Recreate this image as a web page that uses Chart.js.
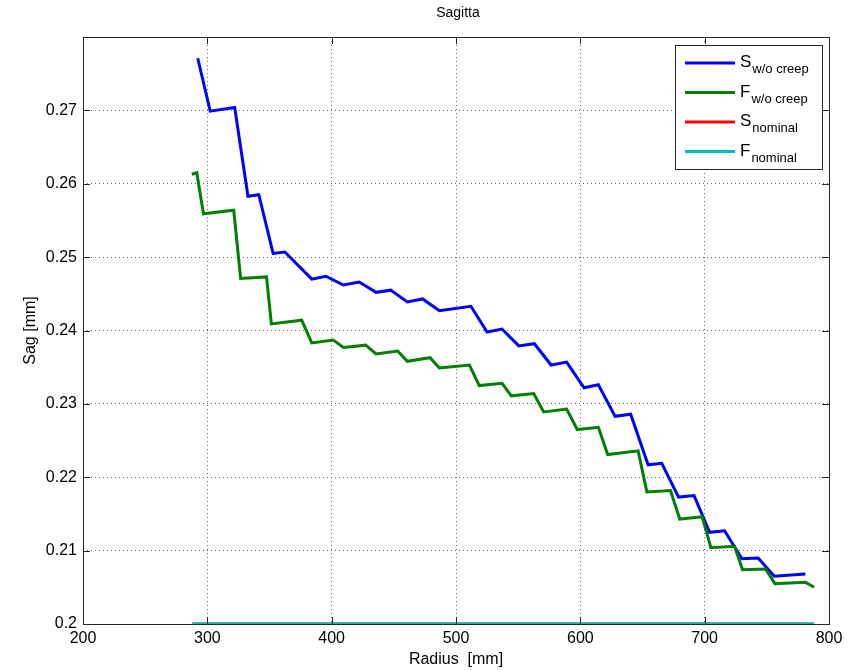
<!DOCTYPE html>
<html>
<head>
<meta charset="utf-8">
<script src="https://cdn.jsdelivr.net/npm/chart.js@4.4.1/dist/chart.umd.min.js"></script>
<style>
  body { margin: 0; background: #fff; }
  canvas { display: block; }
</style>
</head>
<body>
<canvas id="sagChart" width="849" height="670"></canvas>
<script>
// radius [mm] / sag [mm]
var sWoCreepX = [292.3, 302.3, 322, 332.7, 341.4, 352.9, 362.4, 384, 395.4, 409.4, 422.2, 435.7, 447.5, 460.8, 473.2, 486.6, 512, 525, 537, 550.5, 563, 576.5, 589, 603, 614.5, 628, 640.5, 654.5, 665.5, 679, 691.5, 704, 716, 730, 743, 756, 781];
var sWoCreepY = [0.2771, 0.2699, 0.2704, 0.2583, 0.2585, 0.2505, 0.2507, 0.2470, 0.2474, 0.2462, 0.2466, 0.2452, 0.2455, 0.2439, 0.2443, 0.2427, 0.2433, 0.2398, 0.2402, 0.2379, 0.2382, 0.2353, 0.2357, 0.2322, 0.2326, 0.2283, 0.2286, 0.2217, 0.2219, 0.2173, 0.2175, 0.2125, 0.2127, 0.2089, 0.2090, 0.2065, 0.2068];

var fWoCreepX = [287.5, 291.5, 296.9, 321.2, 326.8, 347.6, 351.5, 375.9, 384, 401.3, 409.4, 427.4, 435.7, 453.1, 460.8, 479.1, 486.6, 510.8, 518.7, 537, 544.5, 562.5, 570.5, 589, 597.5, 614.5, 622, 646.5, 653.5, 672.5, 680, 698, 705, 724, 730.5, 749, 756.5, 781, 788];
var fWoCreepY = [0.2613, 0.2615, 0.2559, 0.2564, 0.2471, 0.2473, 0.2409, 0.2414, 0.2383, 0.2387, 0.2377, 0.2380, 0.2368, 0.2372, 0.2358, 0.2363, 0.2349, 0.2353, 0.2325, 0.2328, 0.2311, 0.2314, 0.2289, 0.2293, 0.2265, 0.2268, 0.2231, 0.2236, 0.2180, 0.2182, 0.2143, 0.2146, 0.2104, 0.2106, 0.2074, 0.2075, 0.2055, 0.2057, 0.2050];

var nominalX = [288, 788];
var sNominalY = [0.2, 0.2];
var fNominalY = [0.2, 0.2];

var xTicks = [200, 300, 400, 500, 600, 700, 800];
var yTicks = [0.2, 0.21, 0.22, 0.23, 0.24, 0.25, 0.26, 0.27, 0.28];

var seriesNames = [['S', 'w/o creep'], ['F', 'w/o creep'], ['S', 'nominal'], ['F', 'nominal']];
var seriesColors = ['#0000ff', '#008000', '#ff0000', '#00bfbf'];

function pts(xs, ys) {
  return xs.map(function (x, i) { return { x: x, y: ys[i] }; });
}

var FONT = "'Liberation Sans', Arial, sans-serif";

// title, axis labels, frame, inward ticks and the legend box (subscripts)
var matlabLook = {
  id: 'matlabLook',
  afterDraw: function (chart) {
    var ctx = chart.ctx;
    var a = chart.chartArea;
    var xs = chart.scales.x, ys = chart.scales.y;
    ctx.save();
    ctx.strokeStyle = '#262626';
    ctx.lineWidth = 1;
    ctx.strokeRect(a.left + 0.5, a.top + 0.5, a.right - a.left, a.bottom - a.top);
    ctx.beginPath();
    xTicks.forEach(function (v) {
      var px = Math.round(xs.getPixelForValue(v)) + 0.5;
      ctx.moveTo(px, a.bottom); ctx.lineTo(px, a.bottom - 7);
      ctx.moveTo(px, a.top); ctx.lineTo(px, a.top + 7);
    });
    yTicks.forEach(function (v) {
      var py = Math.round(ys.getPixelForValue(v)) + 0.5;
      ctx.moveTo(a.left, py); ctx.lineTo(a.left + 7, py);
      ctx.moveTo(a.right, py); ctx.lineTo(a.right - 7, py);
    });
    ctx.stroke();

    ctx.fillStyle = '#000';
    ctx.textAlign = 'center';
    ctx.textBaseline = 'middle';
    ctx.font = '14px ' + FONT;
    ctx.fillText('Sagitta', (a.left + a.right) / 2 + 2, 13);
    ctx.font = '16px ' + FONT;
    ctx.fillText('Radius  [mm]', (a.left + a.right) / 2, 660);
    ctx.save();
    ctx.translate(31, (a.top + a.bottom) / 2);
    ctx.rotate(-Math.PI / 2);
    ctx.fillText('Sag [mm]', 0, 0);
    ctx.restore();

    // legend
    var lx = 675, ly = 45, lw = 147, lh = 124;
    ctx.fillStyle = '#fff';
    ctx.fillRect(lx, ly, lw, lh);
    ctx.strokeStyle = '#262626';
    ctx.strokeRect(lx + 0.5, ly + 0.5, lw, lh);
    ctx.textAlign = 'left';
    ctx.textBaseline = 'alphabetic';
    seriesNames.forEach(function (n, i) {
      var y = 63 + i * 29.5;
      ctx.strokeStyle = seriesColors[i];
      ctx.lineWidth = 3;
      ctx.beginPath();
      ctx.moveTo(685, y); ctx.lineTo(735, y);
      ctx.stroke();
      ctx.fillStyle = '#000';
      ctx.font = '17px ' + FONT;
      ctx.fillText(n[0], 740, y + 4);
      var w = ctx.measureText(n[0]).width;
      ctx.font = '13px ' + FONT;
      ctx.fillText(n[1], 740 + w + 1, y + 10);
    });
    ctx.restore();
  }
};

new Chart(document.getElementById('sagChart'), {
  type: 'scatter',
  data: {
    datasets: [
      { label: 'S w/o creep', data: pts(sWoCreepX, sWoCreepY), borderColor: seriesColors[0], order: 4 },
      { label: 'F w/o creep', data: pts(fWoCreepX, fWoCreepY), borderColor: seriesColors[1], order: 3 },
      { label: 'S nominal', data: pts(nominalX, sNominalY), borderColor: seriesColors[2], order: 2 },
      { label: 'F nominal', data: pts(nominalX, fNominalY), borderColor: seriesColors[3], order: 1 }
    ].map(function (d) {
      d.showLine = true;
      d.borderWidth = 3;
      d.pointRadius = 0;
      d.fill = false;
      d.tension = 0;
      return d;
    })
  },
  options: {
    responsive: false,
    animation: false,
    devicePixelRatio: 1,
    layout: { padding: { top: 37, right: 20, left: 0, bottom: 0 } },
    plugins: { legend: { display: false }, title: { display: false }, tooltip: { enabled: false } },
    scales: {
      x: {
        type: 'linear', min: 200, max: 800,
        afterBuildTicks: function (s) { s.ticks = xTicks.map(function (v) { return { value: v }; }); },
        afterFit: function (s) { s.height = 46; },
        grid: { color: '#666', drawTicks: false },
        border: { display: false, dash: [1, 3] },
        ticks: { color: '#000', font: { family: FONT, size: 16 }, padding: 5, maxRotation: 0 }
      },
      y: {
        type: 'linear', min: 0.2, max: 0.28,
        afterBuildTicks: function (s) { s.ticks = yTicks.map(function (v) { return { value: v }; }); },
        afterFit: function (s) { s.width = 83; },
        grid: { color: '#666', drawTicks: false },
        border: { display: false, dash: [1, 3] },
        ticks: {
          color: '#000', font: { family: FONT, size: 16 }, padding: 6,
          callback: function (v) { return v >= 0.275 ? '' : String(Math.round(v * 100) / 100); }
        }
      }
    }
  },
  plugins: [matlabLook]
});
</script>
</body>
</html>
